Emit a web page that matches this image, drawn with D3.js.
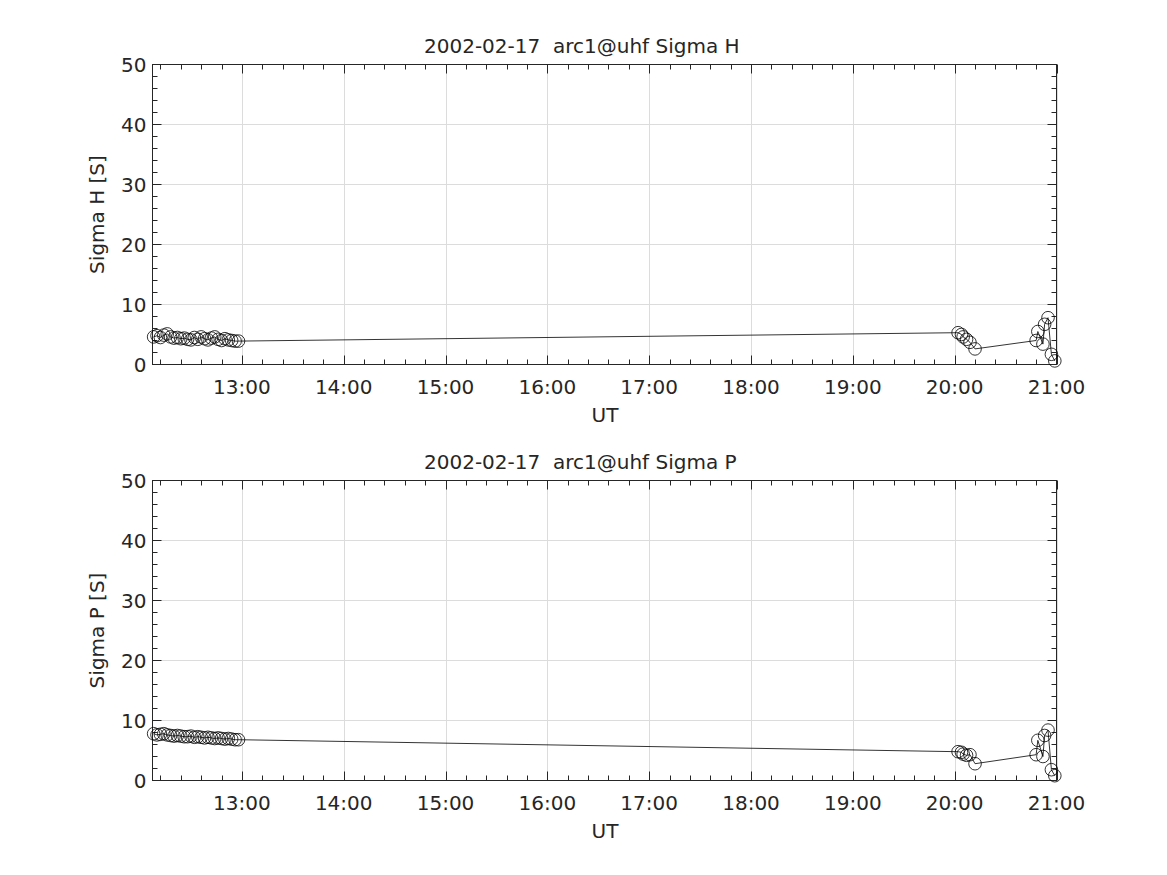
<!DOCTYPE html>
<html><head><meta charset="utf-8">
<script src="https://cdn.jsdelivr.net/npm/d3@7"></script>
<style>
body{margin:0;background:#fff;}
text{font-family:"DejaVu Sans",sans-serif;fill:#262626;white-space:pre;}
</style></head>
<body><svg id="c" width="1167" height="875"></svg>
<script>
const times = ["12:08","12:10","12:12","12:14","12:16","12:18","12:20","12:22","12:24","12:26","12:28","12:30","12:32","12:34","12:36","12:38","12:40","12:42","12:44","12:46","12:48","12:50","12:52","12:54","12:56","12:58",
  "20:02","20:04","20:05","20:07","20:09","20:12",
  "20:48","20:49","20:52","20:53","20:55","20:57","20:59"];
const sigmaH = [4.6,4.8,4.5,4.9,5.1,4.6,4.4,4.5,4.3,4.4,4.2,4.1,4.5,4.2,4.6,4.3,4.1,4.4,4.6,4.2,4.0,4.3,4.1,4.0,3.9,3.9,
  5.3,5.0,4.6,4.2,3.7,2.6,
  4.0,5.5,3.4,6.7,7.8,1.7,0.6];
const sigmaP = [7.8,7.6,7.7,7.8,7.6,7.5,7.4,7.5,7.4,7.3,7.3,7.4,7.2,7.3,7.2,7.1,7.2,7.1,7.0,7.1,7.0,6.9,7.0,6.9,6.8,6.8,
  4.8,4.7,4.4,4.2,4.3,2.8,
  4.3,6.7,4.0,7.5,8.4,1.8,0.8];
const xTickLabels = ["13:00","14:00","15:00","16:00","17:00","18:00","19:00","20:00","21:00"];
const yTicks = [0,10,20,30,40,50];
const panels = [
  {title:"2002-02-17  arc1@uhf Sigma H", ylabel:"Sigma H [S]", values:sigmaH},
  {title:"2002-02-17  arc1@uhf Sigma P", ylabel:"Sigma P [S]", values:sigmaP}
];

const day = "2002-02-17T";
const parseT = s => new Date(day + s + ":00Z");
const svg = d3.select("#c");
const L = 152.5, R = 1056.5;
const tops = [64.5, 480.5], H = 300;
const x = d3.scaleUtc().domain([new Date(day+"12:07:20Z"), new Date(day+"21:00:00Z")]).range([L, R]);
const majorT = xTickLabels.map(parseT);
const minorT = d3.utcMinute.every(12).range(x.domain()[0], x.domain()[1]).filter(d => d.getUTCMinutes() !== 0);
const axCol = "#262626";

panels.forEach((p, i) => {
  const T = tops[i], B = T + H;
  const y = d3.scaleLinear().domain([0, 50]).range([B, T]);
  const g = svg.append("g");
  // grid
  g.selectAll(".gx").data(majorT).enter().append("line")
    .attr("x1", d => Math.round(x(d)) + 0.5).attr("x2", d => Math.round(x(d)) + 0.5)
    .attr("y1", T).attr("y2", B).attr("stroke", "#dcdcdc").attr("stroke-width", 1);
  g.selectAll(".gy").data(yTicks).enter().append("line")
    .attr("x1", L).attr("x2", R).attr("y1", d => y(d)).attr("y2", d => y(d))
    .attr("stroke", "#dcdcdc").attr("stroke-width", 1);
  const minorY = d3.range(0, 51, 2).filter(v => v % 10 !== 0);
  // ticks (inward) on all four sides
  const tk = (x1, y1, x2, y2) => g.append("line").attr("x1", x1).attr("y1", y1).attr("x2", x2).attr("y2", y2)
    .attr("stroke", axCol).attr("stroke-width", 1);
  majorT.forEach(d => { const xx = Math.round(x(d)) + 0.5; tk(xx, B, xx, B - 9); tk(xx, T, xx, T + 9); });
  minorT.forEach(d => { const xx = Math.round(x(d)) + 0.5; tk(xx, B, xx, B - 5); tk(xx, T, xx, T + 5); });
  yTicks.forEach(v => { tk(L, y(v), L + 9, y(v)); tk(R, y(v), R - 9, y(v)); });
  minorY.forEach(v => { tk(L, y(v), L + 5, y(v)); tk(R, y(v), R - 5, y(v)); });
  // box
  g.append("rect").attr("x", L).attr("y", T).attr("width", R - L).attr("height", H)
    .attr("fill", "none").attr("stroke", axCol).attr("stroke-width", 1);
  // tick labels
  g.selectAll(".xl").data(majorT).enter().append("text")
    .attr("x", d => x(d)).attr("y", B + 29).attr("text-anchor", "middle")
    .attr("font-size", 20).text((d, j) => xTickLabels[j]);
  g.selectAll(".yl").data(yTicks).enter().append("text")
    .attr("x", L - 6).attr("y", d => y(d) + 7).attr("text-anchor", "end")
    .attr("font-size", 20).text(d => d);
  // labels
  g.append("text").attr("x", (L + R) / 2 + 0.5).attr("y", B + 57).attr("text-anchor", "middle")
    .attr("font-size", 20).text("UT");
  g.append("text").attr("transform", `translate(${104},${(T + B) / 2}) rotate(-90)`)
    .attr("text-anchor", "middle").attr("font-size", 20).text(p.ylabel);
  g.append("text").attr("x", 424).attr("y", T - 12).attr("text-anchor", "start")
    .attr("font-size", 20).attr("xml:space", "preserve").text(p.title);
  // data
  const pts = times.map((t, j) => ({t: parseT(t), v: p.values[j]}));
  g.append("path").datum(pts)
    .attr("d", d3.line().x(d => x(d.t)).y(d => y(d.v)))
    .attr("fill", "none").attr("stroke", "#000").attr("stroke-width", 0.8);
  g.selectAll(".pt").data(pts).enter().append("circle")
    .attr("cx", d => x(d.t)).attr("cy", d => y(d.v)).attr("r", 6.3)
    .attr("fill", "none").attr("stroke", "#000").attr("stroke-width", 0.8);
});
</script></body></html>
